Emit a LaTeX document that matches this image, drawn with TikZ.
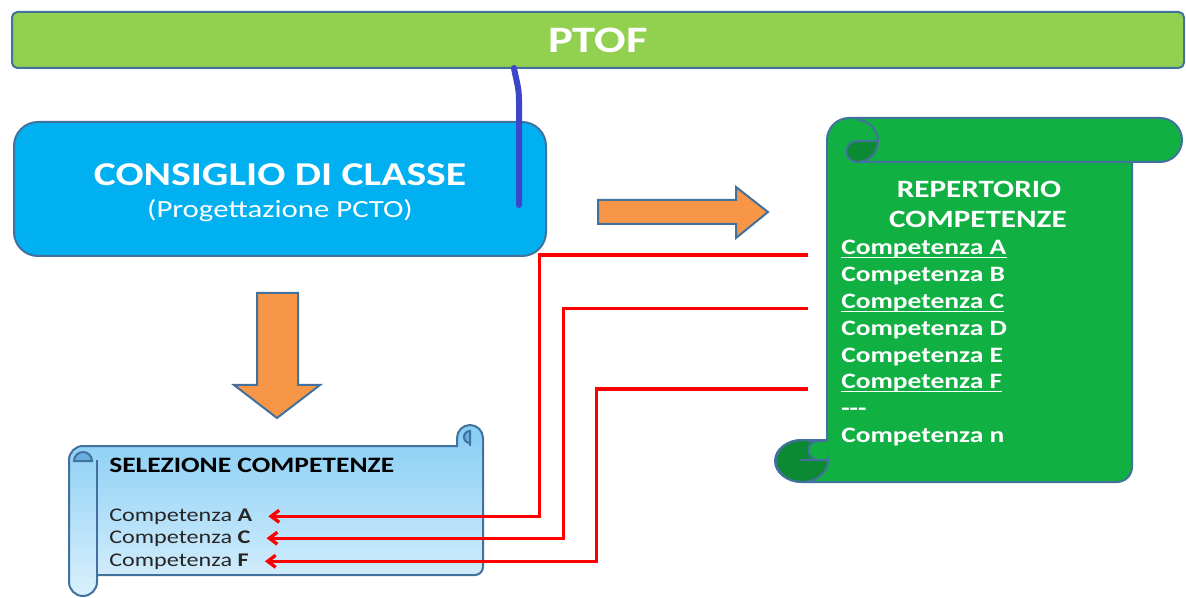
\documentclass[tikz,border=0pt]{standalone}
\usepackage{fontspec}
\setmainfont{Carlito}[FakeStretch=1.25]
\usetikzlibrary{arrows.meta}
\definecolor{PtofGreen}{HTML}{92D050}
\definecolor{ShapeBorder}{HTML}{41719C}
\definecolor{ClassBlue}{HTML}{00B0F0}
\definecolor{PinBlue}{HTML}{3C46C8}
\definecolor{ArrowOrange}{HTML}{F79646}
\definecolor{ScrollGreen}{HTML}{10B142}
\definecolor{CurlGreen}{HTML}{0B8A33}
\definecolor{ScrollTop}{HTML}{86CDF5}
\definecolor{ScrollBottom}{HTML}{DAF0FC}
\definecolor{CurlBlue}{HTML}{6AAEE0}
\definecolor{LinkRed}{HTML}{FF0000}

\tikzset{
  shapeline/.style={draw=ShapeBorder, line width=1.5pt},
  repitem/.style={anchor=base west, inner sep=0pt, text=white,
    font=\fontsize{16.5}{18}\selectfont\bfseries},
  selitem/.style={anchor=base west, inner sep=0pt, text=black!85,
    font=\fontsize{14.5}{16}\selectfont},
  link/.style={LinkRed, line width=2.5pt,
    -{Straight Barb[length=6pt,width=9pt]}},
}

\begin{document}
\begin{tikzpicture}[x=0.75pt, y=0.75pt]
  \useasboundingbox (0,0) rectangle (1186,597);
  % PTOF
  \node[shapeline, fill=PtofGreen, rounded corners=4pt, minimum width=879pt,
    minimum height=42pt, text=white, font=\fontsize{28}{30}\selectfont\bfseries]
    (ptof) at (598,557) {PTOF};
  % Consiglio di classe
  \node[shapeline, fill=ClassBlue, rounded corners=18pt, minimum width=399pt,
    minimum height=100.5pt] (consiglio) at (280,408) {};
  \node[text=white, font=\fontsize{25}{27}\selectfont\bfseries]
    (consTitle) at (280,422) {CONSIGLIO DI CLASSE};
  \node[text=white, font=\fontsize{18.5}{20}\selectfont]
    (consSub) at (280,386) {(Progettazione PCTO)};
  \coordinate (pinTop) at (514,529);
  \coordinate (pinEnd) at (519,392);
  \draw[PinBlue, line width=4.5pt, line cap=round] (pinTop) to[out=-80, in=90]
    (519,497) -- (pinEnd);
  % Block arrows
  \filldraw[shapeline, fill=ArrowOrange] (598,373) -- (736,373) -- (736,359)
    -- (768,385) -- (736,410) -- (736,397) -- (598,397) -- cycle;
  \filldraw[shapeline, fill=ArrowOrange] (257,304) -- (298,304) -- (298,212)
    -- (320,212) -- (277,179) -- (234,212) -- (257,212) -- cycle;
  % Repertorio (vertical scroll)
  \filldraw[shapeline, fill=ScrollGreen] (827,457) arc(180:90:22) -- (1160,479)
    arc(90:-90:22) -- (1132,435) -- (1132,130) arc(0:-90:15) -- (802,115)
    arc[start angle=-90, end angle=-270, x radius=27, y radius=21] -- (827,157)
    -- cycle;
  \draw[shapeline] (857,477) arc(90:-90:21) -- (1132,435);
  \filldraw[shapeline, fill=CurlGreen] (857,456) arc(90:270:10.5) arc(-90:0:21)
    -- cycle;
  \filldraw[shapeline, fill=CurlGreen] (802,136) ellipse[x radius=26, y radius=21];
  \filldraw[shapeline, fill=ScrollGreen] (827,156) -- (818,156) arc(90:270:9.5)
    -- (827,137);
  \draw[shapeline] (800,137) -- (827,137);
  \node[text=white, font=\fontsize{18.7}{20}\selectfont\bfseries]
    (repTitle) at (979,408) {REPERTORIO};
  \node[text=white, font=\fontsize{18.7}{20}\selectfont\bfseries]
    (repTitleB) at (978,378) {COMPETENZE};
  \node[repitem] (repA) at (841,342) {Competenza A};
  \node[repitem] (repB) at (841,315.2) {Competenza B};
  \node[repitem] (repC) at (841,288.4) {Competenza C};
  \node[repitem] (repD) at (841,261.6) {Competenza D};
  \node[repitem] (repE) at (841,234.8) {Competenza E};
  \node[repitem] (repF) at (841,208) {Competenza F};
  \node[repitem] (repDots) at (841,181.2) {-{}-{}-};
  \node[repitem] (repN) at (841,154.4) {Competenza n};
  \draw[white, line width=0.9pt] ([yshift=-2pt]repA.base west) -- ([yshift=-2pt]repA.base east);
  \draw[white, line width=0.9pt] ([yshift=-2pt]repC.base west) -- ([yshift=-2pt]repC.base east);
  \draw[white, line width=0.9pt] ([yshift=-2pt]repF.base west) -- ([yshift=-2pt]repF.base east);
  % Selezione (horizontal scroll)
  \path[shapeline, top color=ScrollTop, bottom color=ScrollBottom] (83,151)
    -- (457,151) -- (457,159) arc(180:0:13) -- (483,30) arc(0:-90:8) -- (97,22)
    -- (97,15) arc(0:-180:14) -- (69,137) arc(180:90:14) -- cycle;
  \draw[shapeline] (97,137) -- (97,22);
  \filldraw[shapeline, fill=CurlBlue] (74,136) arc(180:0:9) -- cycle;
  \filldraw[shapeline, fill=CurlBlue] (470,166) arc(90:270:6) -- cycle;
  \draw[shapeline] (470,166) -- (470,151);
  \node[anchor=base west, inner sep=0pt, text=black,
    font=\fontsize{16.5}{18}\selectfont\bfseries] (selTitle) at (109,125)
    {SELEZIONE COMPETENZE};
  \node[selitem] (selA) at (109,76) {Competenza \textbf{A}};
  \node[selitem] (selC) at (109,54) {Competenza \textbf{C}};
  \node[selitem] (selF) at (109,31) {Competenza \textbf{F}};
  % Links
  \draw[link] ([xshift=-25pt]repA.base west) -- ++(-268,0) |- ([xshift=12pt]selA.east);
  \draw[link] ([xshift=-25pt]repC.base west) -- ++(-244,0) |- ([xshift=12pt]selC.east);
  \draw[link] ([xshift=-25pt]repF.base west) -- ++(-211,0) |- ([xshift=12pt]selF.east);
\end{tikzpicture}
\end{document}
